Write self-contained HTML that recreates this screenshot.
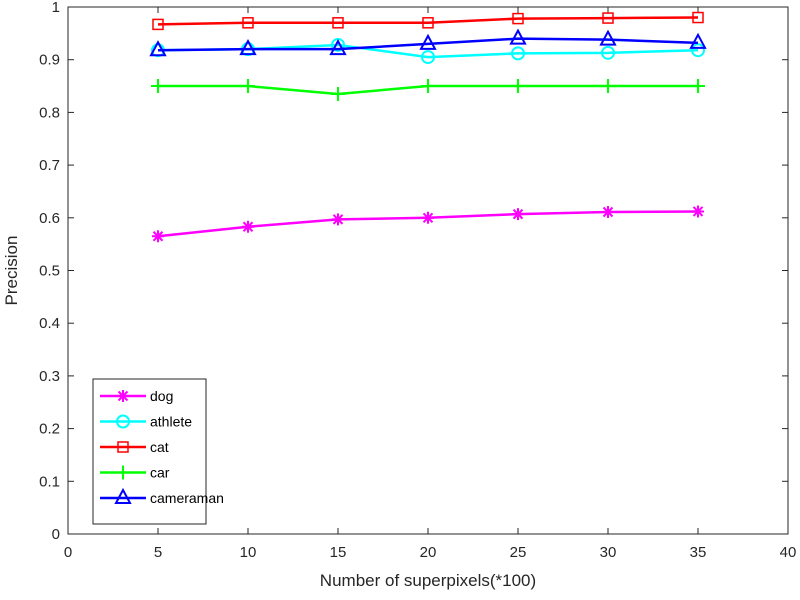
<!DOCTYPE html>
<html><head><meta charset="utf-8"><style>
body{margin:0;background:#fff}
svg{display:block;font-family:"Liberation Sans",Arial,sans-serif}
</style></head><body>
<svg id="chart" width="800" height="600">
<rect x="0" y="0" width="800" height="600" fill="#fff"/>
<g id="grid"></g>
<g id="series"></g>
<g id="legend"></g>
</svg>
<script>
const xValues=[5,10,15,20,25,30,35];
const dogVals=[0.565,0.583,0.597,0.600,0.607,0.611,0.612];
const athleteVals=[0.918,0.920,0.928,0.905,0.912,0.913,0.918];
const catVals=[0.967,0.970,0.970,0.970,0.978,0.979,0.980];
const carVals=[0.850,0.850,0.835,0.850,0.850,0.850,0.850];
const cameramanVals=[0.918,0.920,0.920,0.930,0.940,0.938,0.932];
const xTicks=[0,5,10,15,20,25,30,35,40];
const yTicks=[0,0.1,0.2,0.3,0.4,0.5,0.6,0.7,0.8,0.9,1];
const seriesNames=["dog","athlete","cat","car","cameraman"];

const NS="http://www.w3.org/2000/svg";
const L=68,R=788,T=7,B=534;
const xs=v=>L+(v-0)/40*(R-L);
const ys=v=>B-v*(B-T);
function mk(tag,attrs,parent){const e=document.createElementNS(NS,tag);for(const k in attrs)e.setAttribute(k,attrs[k]);parent.appendChild(e);return e;}
const g=document.getElementById('grid');
const box=mk('rect',{x:L,y:T,width:R-L,height:B-T,fill:'none',stroke:'#262626','stroke-width':1},g);


xTicks.forEach(t=>{
  const x=xs(t);
  mk('line',{x1:x,y1:B,x2:x,y2:B-6,stroke:'#262626'},g);
  mk('line',{x1:x,y1:T,x2:x,y2:T+6,stroke:'#262626'},g);
  const tx=mk('text',{x:x,y:B+23,'text-anchor':'middle','font-size':15,fill:'#262626'},g);
  tx.textContent=t;
  
  
});
yTicks.forEach(t=>{
  const y=ys(t);
  mk('line',{x1:L,y1:y,x2:L+6,y2:y,stroke:'#262626'},g);
  mk('line',{x1:R,y1:y,x2:R-6,y2:y,stroke:'#262626'},g);
  const tx=mk('text',{x:L-8,y:y+5,'text-anchor':'end','font-size':15,fill:'#262626'},g);
  tx.textContent=String(t);
  
  
});
const xt=mk('text',{x:(L+R)/2,y:586,'text-anchor':'middle','font-size':17,fill:'#262626'},g);
xt.textContent='Number of superpixels(*100)';


const yt=mk('text',{x:0,y:0,'text-anchor':'middle','font-size':17,fill:'#262626',transform:`translate(17,${(T+B)/2}) rotate(-90)`},g);
yt.textContent='Precision';



const colors=['#ff00ff','#00ffff','#ff0000','#00ff00','#0000ff'];
const markers=['star','circle','square','plus','triangle'];
const data=[dogVals,athleteVals,catVals,carVals,cameramanVals];
function marker(type,x,y,c,p){
  if(type==='star'){mk('path',{d:`M${x-6} ${y}H${x+6}M${x} ${y-6}V${y+6}M${x-4.5} ${y-4.5}L${x+4.5} ${y+4.5}M${x-4.5} ${y+4.5}L${x+4.5} ${y-4.5}`,stroke:c,'stroke-width':2,fill:'none'},p);}
  else if(type==='circle'){mk('circle',{cx:x,cy:y,r:6,stroke:c,'stroke-width':2,fill:'none'},p);}
  else if(type==='square'){mk('rect',{x:x-5,y:y-5,width:10,height:10,stroke:c,'stroke-width':1.5,fill:'none'},p);}
  else if(type==='plus'){mk('path',{d:`M${x-7} ${y}H${x+7}M${x} ${y-7}V${y+7}`,stroke:c,'stroke-width':2,fill:'none'},p);}
  else{mk('path',{d:`M${x} ${y-8}L${x+7} ${y+5}L${x-7} ${y+5}Z`,stroke:c,'stroke-width':2,fill:'none'},p);}
}
const sg=document.getElementById('series');
data.forEach((vals,i)=>{
  const grp=mk('g',{},sg);
  
  
  const pts=vals.map((v,j)=>xs(xValues[j])+','+ys(v)).join(' ');
  mk('polyline',{points:pts,fill:'none',stroke:colors[i],'stroke-width':2.5},grp);
  vals.forEach((v,j)=>marker(markers[i],xs(xValues[j]),ys(v),colors[i],grp));
});
const lg=document.getElementById('legend');
const lb=mk('rect',{x:93,y:379,width:113,height:145,fill:'#fff',stroke:'#262626'},lg);


seriesNames.forEach((n,i)=>{
  const y=396+i*25.5;
  const eg=mk('g',{},lg);
  
  
  mk('line',{x1:100,y1:y,x2:146,y2:y,stroke:colors[i],'stroke-width':2.5},eg);
  marker(markers[i],123,y,colors[i],eg);
  const t=mk('text',{x:150,y:y+5,'font-size':14,fill:'#000'},eg);
  t.textContent=n;
});
</script>
</body></html>
